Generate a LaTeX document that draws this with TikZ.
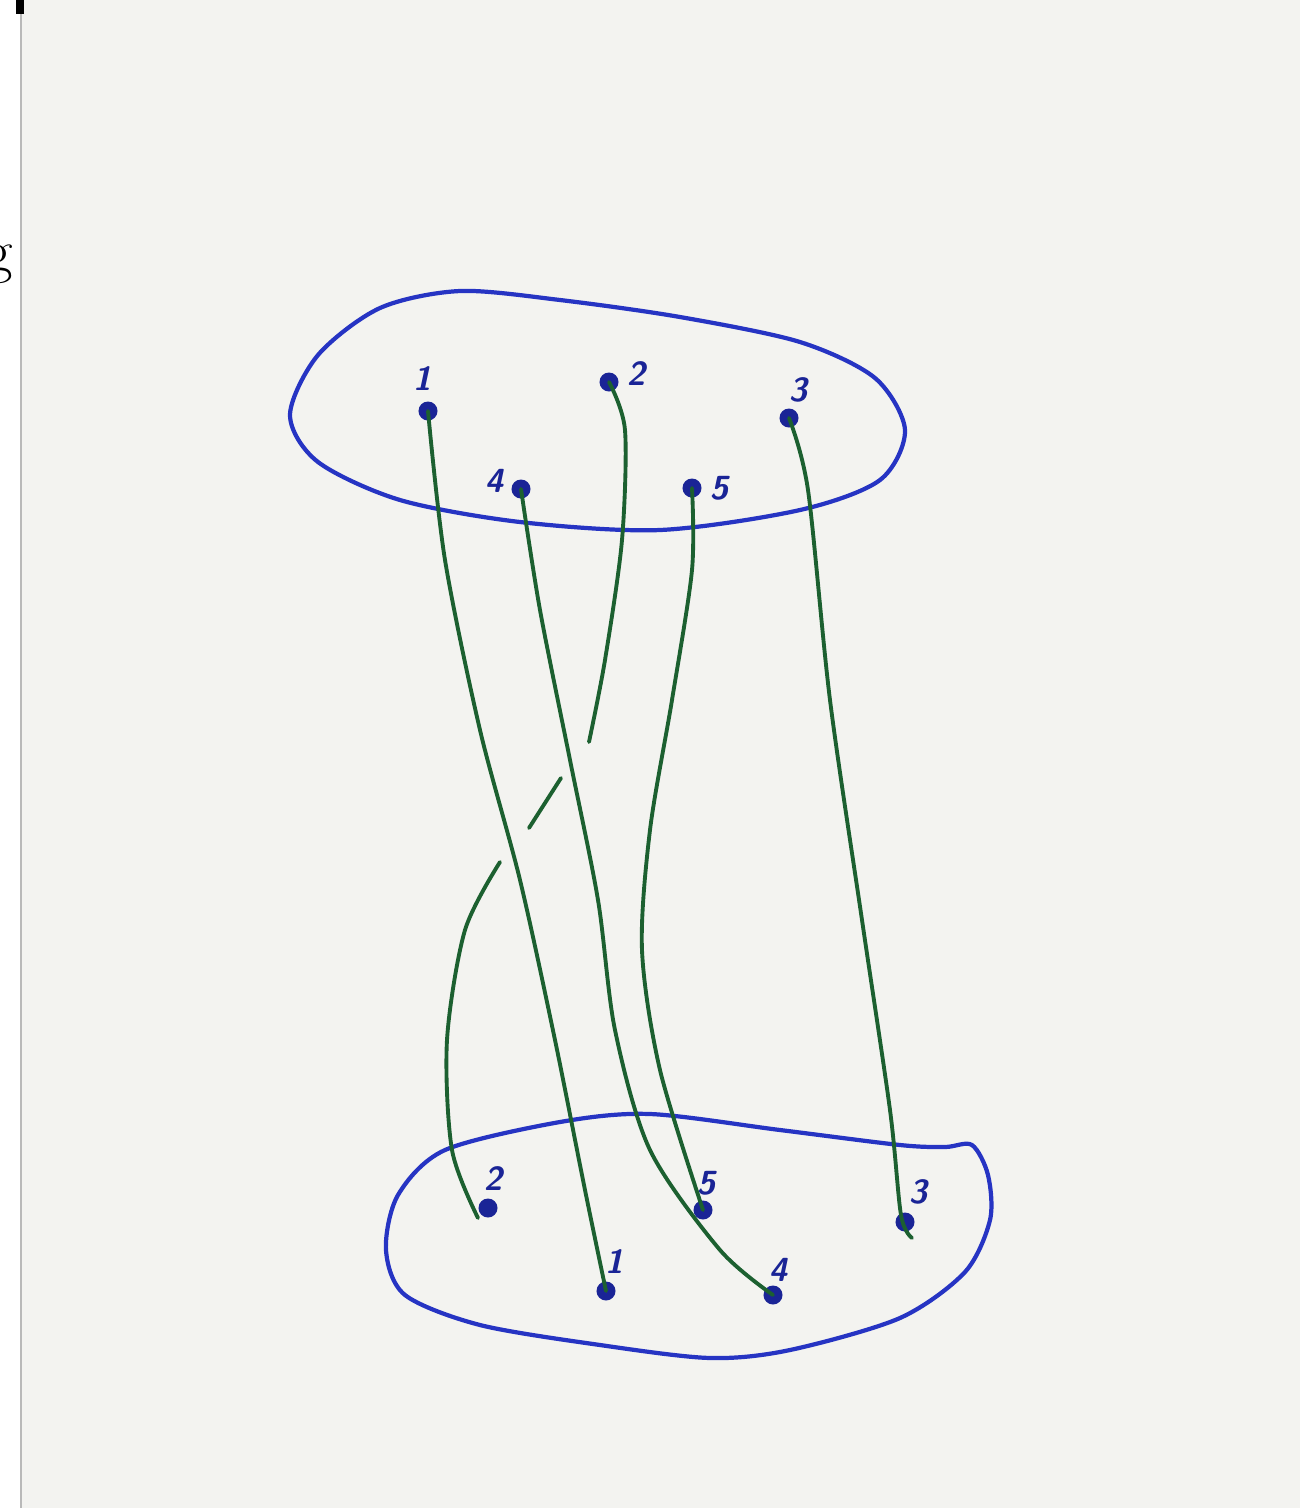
\documentclass[tikz,border=0pt]{standalone}
\usepackage{tikz}

\definecolor{paper}{RGB}{243,243,240}
\definecolor{penblue}{RGB}{38,52,195}
\definecolor{dotblue}{RGB}{26,36,150}
\definecolor{strandgreen}{RGB}{28,96,48}

\begin{document}
\begin{tikzpicture}[x=0.01cm, y=-0.01cm,
    outline/.style={penblue, line width=1.2pt, line join=round},
    strand/.style={strandgreen, line width=1.1pt, line cap=round},
    point/.style={circle, fill=dotblue, inner sep=0pt, minimum size=0.19cm},
    num/.style={dotblue, inner sep=0pt, font=\fontsize{9.5}{10}\selectfont\sffamily\bfseries\itshape}]

\useasboundingbox (0,0) rectangle (1300,1508);

% Sheet of paper
\fill[paper] (0,0) rectangle (1300,1508);
\fill[white] (0,0) rectangle (20,1508);
\draw[gray!55, line width=0.8pt] (21,0) -- (21,1508);
\fill[black] (16,0) rectangle (24,14);
\node[anchor=base east, inner sep=0pt, font=\fontsize{17}{20}\selectfont] (cut) at (14,271) {g};

% Upper boundary
\draw[outline] plot[smooth cycle] coordinates {(290,415) (318,355) (380,308) (460,291) (560,300) (680,317) (800,342) (875,378) (905,430) (880,480) (800,510) (660,530) (520,522) (400,500) (318,462)};

% Lower boundary
\draw[outline] plot[smooth cycle] coordinates {(386,1250) (398,1195) (445,1150) (560,1122) (650,1114) (780,1130) (900,1145) (945,1147) (972,1145) (988,1175) (990,1220) (965,1272) (900,1318) (790,1350) (710,1358) (600,1345) (480,1325) (405,1295)};

% Upper points
\node[point] (t1) at (428,411) {};
\node[point] (t2) at (609,382) {};
\node[point] (t3) at (789,418) {};
\node[point] (t4) at (521,489) {};
\node[point] (t5) at (692,488) {};
\node[num] (lt1) at (422,379) {1};
\node[num] (lt2) at (636,374) {2};
\node[num] (lt3) at (798,390) {3};
\node[num] (lt4) at (494,481) {4};
\node[num] (lt5) at (719,488) {5};

% Lower points
\node[point] (b1) at (606,1291) {};
\node[point] (b2) at (488,1208) {};
\node[point] (b3) at (905,1222) {};
\node[point] (b4) at (773,1295) {};
\node[point] (b5) at (703,1210) {};
\node[num] (lb1) at (614,1262) {1};
\node[num] (lb2) at (493,1179) {2};
\node[num] (lb3) at (918,1192) {3};
\node[num] (lb4) at (778,1270) {4};
\node[num] (lb5) at (706,1183) {5};

% Strands
\draw[strand] plot[smooth] coordinates {(t1.center) (445,560) (480,730) (520,880) (555,1040) (585,1190) (b1.center)};
\draw[strand] plot[smooth] coordinates {(t4.center) (540,610) (570,760) (598,900) (615,1030) (650,1150) (720,1250) (b4.center)};
\draw[strand] plot[smooth] coordinates {(t5.center) (692,570) (672,700) (650,830) (642,950) (660,1070) (b5.center)};
\draw[strand] plot[smooth] coordinates {(t3.center) (808,490) (830,700) (862,920) (890,1110) (901,1215) (912,1238)};

% strand 2 passes under strands 4 and 1
\coordinate (u1) at (589,742);
\coordinate (o1) at (561,778);
\coordinate (o2) at (529,828);
\coordinate (u2) at (500,862);
\draw[strand] plot[smooth] coordinates {(t2.center) (625,430) (622,540) (605,660) (u1)};
\draw[strand] (o1) -- (o2);
\draw[strand] plot[smooth] coordinates {(u2) (465,930) (447,1040) (452,1150) (478,1218)};

\end{tikzpicture}
\end{document}
